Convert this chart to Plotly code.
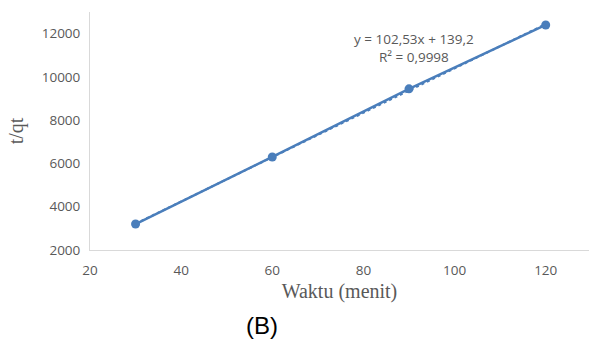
import plotly.graph_objects as go

waktu = [30, 60, 90, 120]
t_qt = [3200, 6300, 9450, 12400]
slope = 102.53
intercept = 139.2
trend_x = [30, 120]
equation = "y = 102,53x + 139,2"
r2_text = "R² = 0,9998"
x_ticks = [20, 40, 60, 80, 100, 120]
y_ticks = [2000, 4000, 6000, 8000, 10000, 12000]

color = "#4a7ebb"
gray = "#595959"
tickfont = dict(family="Open Sans, Calibri, sans-serif", size=13.5, color=gray)
titlefont = dict(family="Liberation Serif, Times New Roman, serif", size=20, color=gray)

fig = go.Figure()
fig.add_trace(go.Scatter(
    x=trend_x, y=[slope * v + intercept for v in trend_x],
    mode="lines", line=dict(color=color, width=2, dash="dot"),
    showlegend=False, hoverinfo="skip"))
fig.add_trace(go.Scatter(
    x=waktu, y=t_qt, mode="lines+markers",
    line=dict(color=color, width=2.5),
    marker=dict(color=color, size=9),
    showlegend=False))

fig.add_annotation(x=91, y=11350, xref="x", yref="y",
                   text=equation + "<br>" + r2_text, showarrow=False,
                   font=dict(family="Open Sans, Calibri, sans-serif", size=13.5, color=gray),
                   align="center", xanchor="center", yanchor="middle")

fig.add_annotation(xref="paper", yref="paper", text="(B)",
                   x=(262 - 90) / 499, y=-(325 - 250) / 238,
                   xanchor="center", yanchor="middle",
                   showarrow=False, font=dict(family="Liberation Sans, Arial", size=24, color="black"))

fig.update_layout(
    width=589, height=341,
    margin=dict(l=90, r=0, t=12, b=91),
    paper_bgcolor="white", plot_bgcolor="white",
    xaxis=dict(range=[20, 129.5], tickvals=x_ticks, ticktext=[str(v) for v in x_ticks],
               showgrid=False, zeroline=False,
               showline=True, linecolor="#d9d9d9", linewidth=1,
               tickfont=tickfont,
               ticks="outside", ticklen=8, tickcolor="rgba(0,0,0,0)",
               title=dict(text="Waktu (menit)", font=titlefont, standoff=5)),
    yaxis=dict(range=[2000, 13000], tickvals=y_ticks, ticktext=[str(v) for v in y_ticks],
               showgrid=False, zeroline=False,
               showline=True, linecolor="#d9d9d9", linewidth=1,
               tickfont=tickfont,
               ticks="outside", ticklen=6, tickcolor="rgba(0,0,0,0)",
               title=dict(text="t/qt", font=titlefont, standoff=12)),
)

fig.write_html("out.html")
